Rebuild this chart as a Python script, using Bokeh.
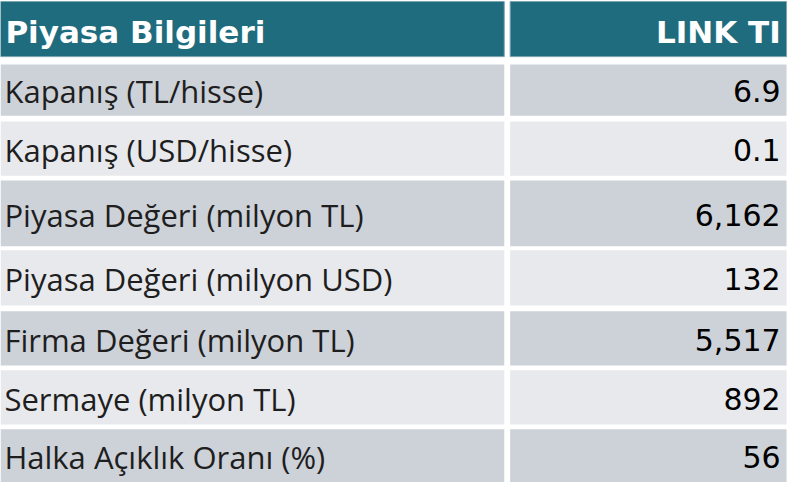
from bokeh.plotting import figure
from bokeh.models import Range1d, ColumnDataSource
from bokeh.embed import file_html
from bokeh.resources import INLINE
from bokeh.core.properties import value

# ---- data ----
header_left = "Piyasa Bilgileri"
header_right = "LINK TI"
labels = [
    "Kapanış (TL/hisse)",
    "Kapanış (USD/hisse)",
    "Piyasa Değeri (milyon TL)",
    "Piyasa Değeri (milyon USD)",
    "Firma Değeri (milyon TL)",
    "Sermaye (milyon TL)",
    "Halka Açıklık Oranı (%)",
]
values = ["6.9", "0.1", "6,162", "132", "5,517", "892", "56"]

# ---- layout (reference pixel space) ----
W, H = 804, 498
row_top = [66, 125, 186, 258, 321, 382, 443]
row_bot = [119, 181, 254, 315, 377, 438, 498]
hdr_top, hdr_bot = 1, 58
col1 = (0, 514)
col2 = (520, 802)
dark = "#cdd1d8"
light = "#e8e9ed"
teal = "#1f6c7e"

p = figure(width=788, height=482, x_range=Range1d(0, W), y_range=Range1d(H, 0),
           output_backend="svg", toolbar_location=None, min_border=0)
p.axis.visible = False
p.grid.visible = False
p.outline_line_color = None
p.background_fill_color = "white"
p.border_fill_color = "white"

# header
hsrc = ColumnDataSource(dict(left=[col1[0], col2[0]], right=[col1[1], col2[1]],
                             top=[hdr_top, hdr_top], bottom=[hdr_bot, hdr_bot]))
p.quad(left="left", right="right", top="top", bottom="bottom", source=hsrc,
       fill_color=teal, line_color="#7fa6b0", line_width=1)

# body rows
lefts, rights, tops, bots, cols = [], [], [], [], []
for i in range(len(labels)):
    c = dark if i % 2 == 0 else light
    for (a, b) in (col1, col2):
        lefts.append(a); rights.append(b)
        tops.append(row_top[i]); bots.append(row_bot[i]); cols.append(c)
rsrc = ColumnDataSource(dict(left=lefts, right=rights, top=tops, bottom=bots, color=cols))
p.quad(left="left", right="right", top="top", bottom="bottom", source=rsrc,
       fill_color="color", line_color=None)

# header texts
hy = (hdr_top + hdr_bot) / 2 + 3
p.text(x=[5], y=[hy], text=[header_left],
       text_font=value("DejaVu Sans"), text_font_style="bold",
       text_font_size="31px", text_color="white",
       text_align="left", text_baseline="middle")
p.text(x=[796], y=[hy], text=[header_right],
       text_font=value("DejaVu Sans"), text_font_style="bold",
       text_font_size="31px", text_color="white",
       text_align="right", text_baseline="middle")

ymid = [(t + b) / 2 + 1.5 for t, b in zip(row_top, row_bot)]
lsrc = ColumnDataSource(dict(x=[4] * len(labels), y=ymid, text=labels))
p.text(x="x", y="y", text="text", source=lsrc,
       text_font=value("Open Sans"), text_font_size="31px", text_color="#1e1e1e",
       text_align="left", text_baseline="middle")
vsrc = ColumnDataSource(dict(x=[796] * len(values), y=ymid, text=values))
p.text(x="x", y="y", text="text", source=vsrc,
       text_font=value("DejaVu Sans"), text_font_size="30px", text_color="black",
       text_align="right", text_baseline="middle")

open("out.html", "w").write(file_html(p, INLINE))
